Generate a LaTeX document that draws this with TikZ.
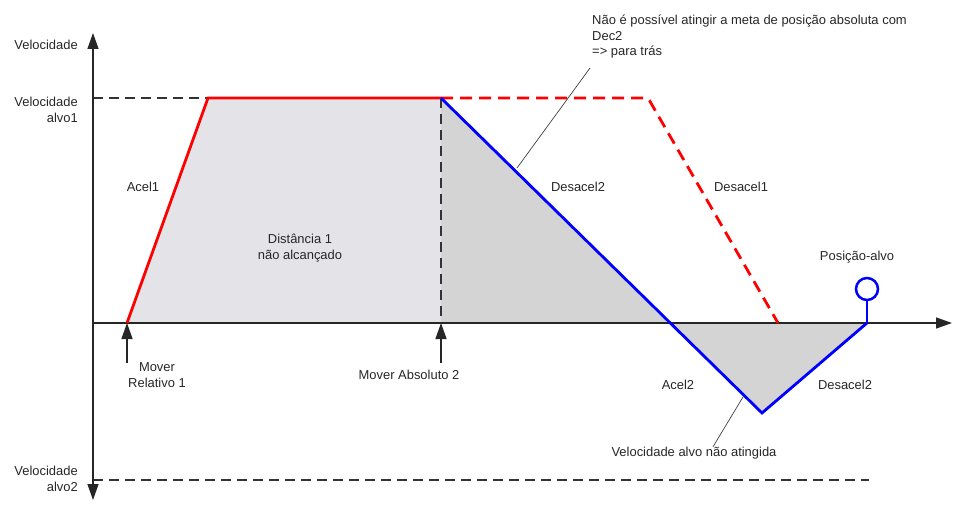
\documentclass[tikz,border=0pt]{standalone}
\usepackage{fontspec}
\setmainfont{Liberation Sans}
\usetikzlibrary{arrows.meta}
\definecolor{fillA}{RGB}{228,228,232}
\definecolor{fillB}{RGB}{212,212,212}
\definecolor{prof}{RGB}{0,0,255}
\definecolor{plan}{RGB}{255,0,0}
\begin{document}
\begin{tikzpicture}[x=1bp,y=-1bp,
  lbl/.style={font=\fontsize{13}{15.5}\selectfont, text=black!85, inner sep=0pt, align=center},
  axisline/.style={line width=1.3bp, black!85},
  guide/.style={line width=1.3bp, black!80, dash pattern=on 10bp off 6bp},
  redline/.style={line width=2.8bp, plan, line join=miter},
  reddash/.style={line width=2.8bp, plan, dash pattern=on 12bp off 7bp, rounded corners=3bp},
  blueline/.style={line width=2.8bp, prof, line join=miter},
  callout/.style={line width=0.7bp, black!75},
  tip/.style={-{Triangle[length=16bp,width=11bp]}},
  cmd/.style={line width=1.3bp, black!85, -{Triangle[length=16bp,width=11bp]}}]
\useasboundingbox (0,0) rectangle (954,505);

% key points of the profiles
\coordinate (O) at (93,323);
\coordinate (ytop) at (93,33);
\coordinate (ybot) at (93,500);
\coordinate (xend) at (952,323);
\coordinate (s1) at (127,323);
\coordinate (a1) at (208,98);
\coordinate (a2) at (441,98);
\coordinate (m2) at (441,323);
\coordinate (d1) at (648,98);
\coordinate (d1e) at (778,323);
\coordinate (zc) at (668,323);
\coordinate (vmin) at (762,413);
\coordinate (pend) at (867,323);
\coordinate (v1l) at (93,98);
\coordinate (v2l) at (93,480);
\coordinate (v2r) at (869,480);

% shaded travelled distances
\fill[fillA] (s1) -- (a1) -- (a2) -- (m2) -- cycle;
\fill[fillB] (a2) -- (zc) -- (m2) -- cycle;
\fill[fillB] (zc) -- (vmin) -- (pend) -- cycle;

% target velocity guides
\draw[guide] (v1l) -- (a1);
\draw[guide] (v2l) -- (v2r);
\draw[guide] (a2) -- (m2);

% axes
\draw[axisline, tip] (O) -- (ytop);
\draw[axisline, tip] (O) -- (ybot);
\draw[axisline, tip] (O) -- (xend);

% planned profile of the first command
\draw[redline] (s1) -- (a1) -- (a2);
\draw[reddash] (a2) -- (d1) -- (d1e);

% profile after the absolute move
\draw[blueline] (a2) -- (vmin) -- (pend);

% target position marker
\node[circle, draw=prof, line width=2.5bp, minimum size=22bp, inner sep=0pt] (tgt) at (867,289) {};
\draw[blueline] (tgt.south) -- (pend);

% command start markers
\coordinate (c1) at (127,363);
\coordinate (c2) at (441,363);
\draw[cmd] (c1) -- (s1);
\draw[cmd] (c2) -- (m2);

% axis labels
\node[lbl, anchor=east] (lv) at (78,45) {Velocidade};
\node[lbl, anchor=east, align=right] (lv1) at (78,110) {Velocidade\\alvo1};
\node[lbl, anchor=east, align=right] (lv2) at (78,479) {Velocidade\\alvo2};

% segment labels
\node[lbl] (lacel1) at (143,187) {Acel1};
\node[lbl] (ldist) at (300,248) {Distância 1\\não alcançado};
\node[lbl] (ldes2a) at (578,187) {Desacel2};
\node[lbl] (ldes1) at (741,187) {Desacel1};
\node[lbl] (lacel2) at (678,385) {Acel2};
\node[lbl] (ldes2b) at (845,385) {Desacel2};
\node[lbl] (lpos) at (857,257) {Posição-alvo};
\node[lbl] (lmr) at (157,375) {Mover\\Relativo 1};
\node[lbl] (lma) at (409,375) {Mover Absoluto 2};

% annotations
\node[lbl, anchor=north west, align=left] (note) at (592,15) {Não é possível atingir a meta de posição absoluta com\\Dec2\\=> para trás};
\node[lbl] (lvna) at (694,453) {Velocidade alvo não atingida};
\coordinate (k1) at (517,168);
\coordinate (k2) at (743,397);
\draw[callout] (k1) -- (590,68);
\draw[callout] (k2) -- (lvna.north -| 713,0);
\end{tikzpicture}
\end{document}
